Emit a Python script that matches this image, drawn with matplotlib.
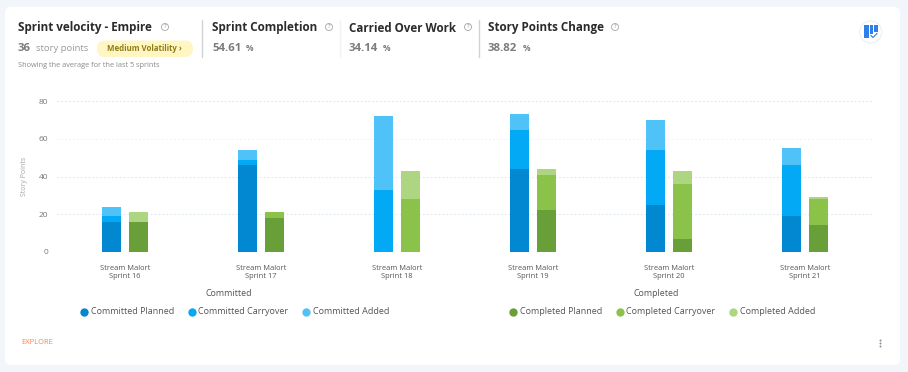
import numpy as np
from matplotlib import pyplot as plt
from matplotlib.patches import FancyBboxPatch, Circle, Rectangle

plt.rcParams['font.family'] = ['Open Sans', 'DejaVu Sans']

sprints = ["Stream Malort\nSprint 16", "Stream Malort\nSprint 17", "Stream Malort\nSprint 18",
           "Stream Malort\nSprint 19", "Stream Malort\nSprint 20", "Stream Malort\nSprint 21"]
committed_planned = [16, 46, 0, 44, 25, 19]
committed_carryover = [3, 3, 33, 21, 29, 27]
committed_added = [5, 5, 39, 8, 16, 9]
completed_planned = [16, 18, 0, 22, 7, 14]
completed_carryover = [0, 3, 28, 19, 29, 14]
completed_added = [5, 0, 15, 3, 7, 1]
y_ticks = [0, 20, 40, 60, 80]

BLUES = ['#0288d1', '#03a9f4', '#4fc3f7']
GREENS = ['#689f38', '#8bc34a', '#aed581']
W, H = 908, 372


def stack(ax, x, parts, colors):
    bottom = np.zeros(len(x))
    for part, color in zip(parts, colors):
        ax.bar(x, part, 0.144, bottom=bottom, color=color, zorder=3)
        bottom += np.array(part)


fig = plt.figure(figsize=(W / 100, H / 100), dpi=100, facecolor='#f2f6fa')

# page furniture, drawn in pixel coordinates
bg = fig.add_axes([0, 0, 1, 1])
bg.set_xlim(0, W)
bg.set_ylim(H, 0)
bg.axis('off')
bg.add_patch(FancyBboxPatch((5, 7), 895, 358, boxstyle='round,pad=0,rounding_size=6',
                            fc='white', ec='none'))

DARK = '#2b2b2b'
GREY = '#7b7b7b'
bg.text(18, 28, "Sprint velocity - Empire", fontsize=8.4, fontweight='bold', color=DARK, va='center')
bg.text(212, 28, "Sprint Completion", fontsize=8.4, fontweight='bold', color=DARK, va='center')
bg.text(349, 28, "Carried Over Work", fontsize=8.4, fontweight='bold', color=DARK, va='center')
bg.text(488, 28, "Story Points Change", fontsize=8.4, fontweight='bold', color=DARK, va='center')
for hx in [165, 329, 468, 615]:
    bg.add_patch(Circle((hx, 27), 3.5, fc='none', ec='#a5a5a5', lw=0.6))
    bg.text(hx, 27, "?", fontsize=4.2, color='#8a8a8a', ha='center', va='center')

bg.text(18, 48.5, "36", fontsize=8.2, fontweight='bold', color=GREY, va='center')
bg.text(36.5, 48.5, "story points", fontsize=6.8, color='#9a9a9a', va='center')
bg.add_patch(FancyBboxPatch((97, 40.5), 96, 16.5, boxstyle='round,pad=0,rounding_size=8',
                            fc='#fff6c4', ec='none'))
bg.text(106.7, 48.5, "Medium Volatility ›", fontsize=5.7, fontweight='bold', color='#8f7d16', va='center')
bg.text(18, 65.5, "Showing the average for the last 5 sprints", fontsize=5.3, color='#8a8a8a', va='center')

bg.text(212, 48.5, "54.61", fontsize=8.2, fontweight='bold', color=GREY, va='center')
bg.text(246, 48.5, "%", fontsize=6, fontweight='bold', color=GREY, va='center')
bg.text(349, 48.5, "34.14", fontsize=8.2, fontweight='bold', color=GREY, va='center')
bg.text(383, 48.5, "%", fontsize=6, fontweight='bold', color=GREY, va='center')
bg.text(488, 48.5, "38.82", fontsize=8.2, fontweight='bold', color=GREY, va='center')
bg.text(523, 48.5, "%", fontsize=6, fontweight='bold', color=GREY, va='center')

bg.plot([202, 202], [20, 57], color='#d2d2d2', lw=1)
bg.plot([339.5, 339.5], [20, 57], color='#f2f2f2', lw=1)
bg.plot([478.5, 478.5], [20, 57], color='#d2d2d2', lw=1)

# board icon
bg.add_patch(Circle((870.7, 32), 11, fc='white', ec='#e6edf3', lw=0.7))
bg.add_patch(Rectangle((863.5, 25), 5, 13, fc='#2f7fe8', ec='none'))
bg.add_patch(Rectangle((869.5, 25), 3.7, 8.5, fc='#2f7fe8', ec='none'))
bg.add_patch(Rectangle((874.2, 25), 3.7, 6.5, fc='#2f7fe8', ec='none'))
bg.plot([871, 873, 877], [35.5, 37.5, 33.5], color='#2f7fe8', lw=0.8)

bg.text(21.5, 342, "EXPLORE", fontsize=5.4, color='#ff7f50', va='center')
bg.plot([880.3, 880.3, 880.3], [339.5, 342.8, 346], ls='none', marker='o', ms=1.4, color='#8a8a8a', mec='none')

# chart
ax = fig.add_axes([57 / W, 1 - 251.7 / H, 816 / W, 150.4 / H], facecolor='none')
x = np.arange(len(sprints))
stack(ax, x - 0.1, [committed_planned, committed_carryover, committed_added], BLUES)
stack(ax, x + 0.1, [completed_planned, completed_carryover, completed_added], GREENS)

ax.set_xlim(-0.5, 5.5)
ax.set_ylim(0, 80)
ax.set_yticks(y_ticks)
ax.set_xticks(x)
ax.set_xticklabels(sprints, fontsize=5.4, color='#555555', linespacing=1.3)
ax.tick_params(axis='x', length=0, pad=9.5)
ax.tick_params(axis='y', length=0, pad=6.5, labelsize=6, labelcolor='#777777')
ax.grid(axis='y', color='#dbe8f1', lw=0.8, ls=(0, (1.5, 2)), zorder=0)
for side in ax.spines.values():
    side.set_visible(False)
ax.get_ygridlines()[3].set_color('#f0f4f7')
ax.get_ygridlines()[0].set_color('#eef3f7')
ax.set_ylabel("Story Points", fontsize=5, color='#a5a5a5')
ax.yaxis.set_label_coords(-0.036, 0.5)

# legends, laid out by hand to sit under the chart
bg.text(229, 293.5, "Committed", fontsize=6.4, color='#555555', ha='center', va='center')
bg.text(656.5, 293.5, "Completed", fontsize=6.4, color='#555555', ha='center', va='center')


def legend_row(names, colors, dots, text_x):
    for name, color, dx, tx in zip(names, colors, dots, text_x):
        bg.plot(dx, 311.7, marker='o', ms=6, color=color, mec='none')
        bg.text(tx, 311.5, name, fontsize=6.5, color='#555555', va='center')


legend_row(["Committed Planned", "Committed Carryover", "Committed Added"], BLUES,
           [84.3, 191.5, 306], [91, 198.5, 313])
legend_row(["Completed Planned", "Completed Carryover", "Completed Added"], GREENS,
           [513, 619.5, 733], [520, 626, 739.5])

fig.savefig('out.png', dpi=100, facecolor=fig.get_facecolor())
